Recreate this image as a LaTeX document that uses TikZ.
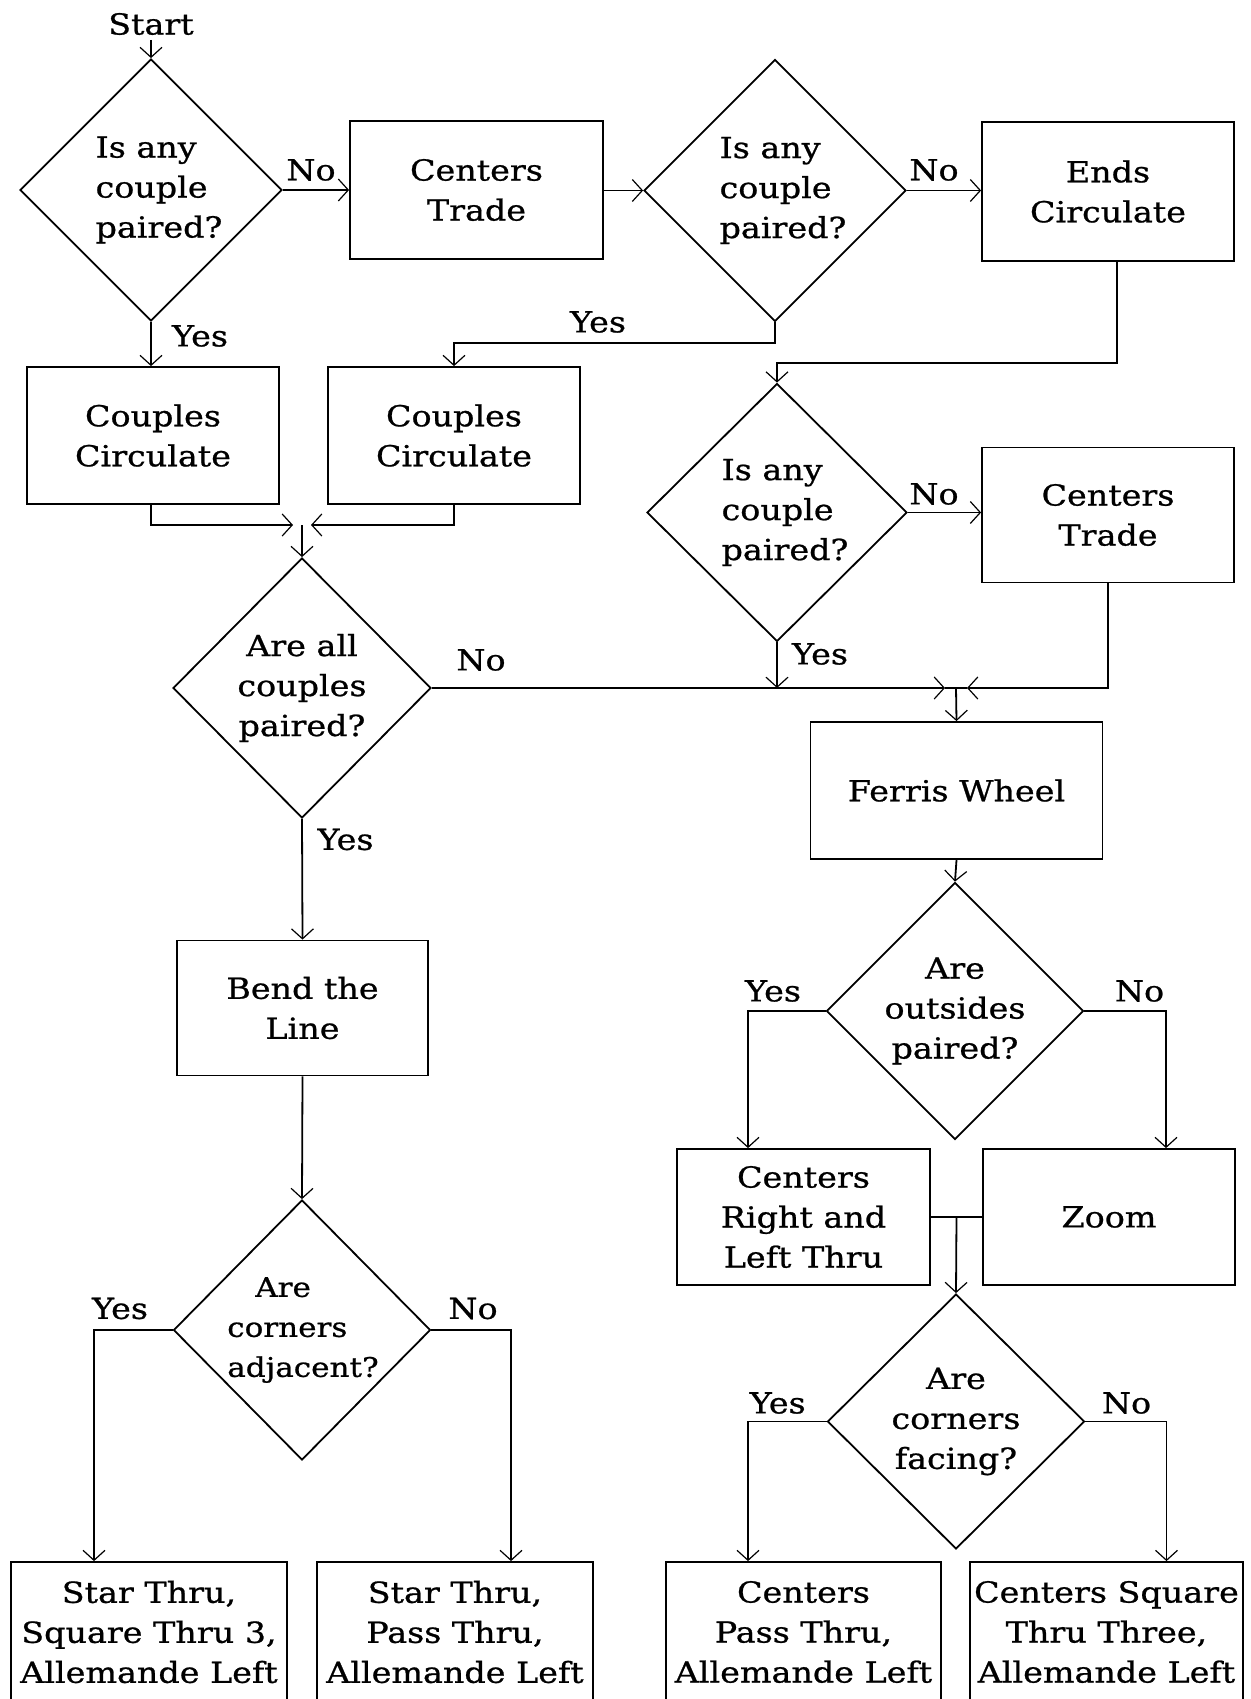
\documentclass[tikz,border=0pt]{standalone}
\usepackage{fontspec}
\setmainfont{DejaVu Serif}[FakeStretch=1.15,FakeBold=0.8]
\usetikzlibrary{shapes.geometric,arrows.meta}
\begin{document}
\begin{tikzpicture}[x=1pt,y=-1pt,line width=1.8pt,
  every node/.style={font=\fontsize{29}{40}\selectfont, align=center, inner sep=0pt},
  box/.style={draw, line width=1.8pt, rectangle},
  dia/.style={draw, line width=1.8pt, diamond, inner sep=-40pt},
  lab/.style={font=\fontsize{29}{40}\selectfont},
  arr/.style={-{Straight Barb[length=10pt,width=22pt,line width=1.2pt]}}]
\useasboundingbox (0,0) rectangle (1250,1699);
\fill[white] (0,0) rectangle (1250,1699);
\clip (0,0) rectangle (1250,1699);
% nodes
\node (start) at (151,24) {Start};
\coordinate (s0) at (151,40);
\node[dia, align=left, minimum width=262pt, minimum height=262pt] (d1) at (151,190) {\hspace*{16pt}Is any\\\hspace*{16pt}couple\\\hspace*{16pt}paired?};
\node[box, minimum width=253pt, minimum height=138pt] (ct1) at (476.5,190) {Centers\\Trade};
\node[dia, align=left, minimum width=262pt, minimum height=262pt] (d2) at (775,190.5) {\hspace*{16pt}Is any\\\hspace*{16pt}couple\\\hspace*{16pt}paired?};
\node[box, minimum width=252pt, minimum height=139pt] (ec) at (1108,191.5) {Ends\\Circulate};
\node[box, minimum width=252pt, minimum height=137pt] (cc1) at (153,435.5) {Couples\\Circulate};
\node[box, minimum width=252pt, minimum height=137pt] (cc2) at (454,435.5) {Couples\\Circulate};
\node[dia, align=left, minimum width=260pt, minimum height=258pt] (d4) at (777,512.5) {\hspace*{16pt}Is any\\\hspace*{16pt}couple\\\hspace*{16pt}paired?};
\node[box, minimum width=252pt, minimum height=135pt] (ct2) at (1108,515) {Centers\\Trade};
\node[dia, minimum width=258pt, minimum height=260pt] (d3) at (302,688) {Are all\\couples\\paired?};
\node[box, minimum width=292pt, minimum height=137pt] (fw) at (956.5,790.5) {Ferris Wheel};
\node[dia, minimum width=257pt, minimum height=257pt] (d5) at (955,1011) {Are\\outsides\\paired?};
\node[box, minimum width=251pt, minimum height=135pt] (bl) at (302.5,1008) {Bend the\\Line};
\node[dia, align=left, font=\fontsize{27}{40}\selectfont, minimum width=257pt, minimum height=260pt] (d7) at (302,1330) {\hspace*{30pt}Are\\\hspace*{2pt}corners\\\hspace*{2pt}adjacent?};
\node[box, minimum width=253pt, minimum height=136pt] (cr) at (803.5,1217) {Centers\\Right and\\Left Thru};
\node[box, minimum width=252pt, minimum height=136pt] (zm) at (1109,1217) {Zoom};
\node[dia, minimum width=257pt, minimum height=255pt] (d6) at (956,1421.5) {Are\\corners\\facing?};
\node[box, minimum width=276pt, minimum height=140pt] (sts) at (149,1632) {Star Thru,\\Square Thru 3,\\Allemande Left};
\node[box, minimum width=276pt, minimum height=140pt] (stp) at (455,1632) {Star Thru,\\Pass Thru,\\Allemande Left};
\node[box, minimum width=275pt, minimum height=140pt] (cpt) at (803.5,1632) {Centers\\Pass Thru,\\Allemande Left};
\node[box, minimum width=273pt, minimum height=140pt] (cst) at (1106.5,1632) {Centers Square\\Thru Three,\\Allemande Left};
% merge points
\coordinate (m1) at (302,525);
\coordinate (m2) at (956,688);
\coordinate (m3) at (956.5,1217);
% labels
\node[lab] (n1) at (311,170) {No};
\node[lab] (y1) at (200,336) {Yes};
\node[lab] (n2) at (934,170) {No};
\node[lab] (y2) at (598,322) {Yes};
\node[lab] (n4) at (934,494) {No};
\node[lab] (y4) at (820,654) {Yes};
\node[lab] (n3) at (481,660) {No};
\node[lab] (y3) at (345.5,839.5) {Yes};
\node[lab] (y5) at (773,991) {Yes};
\node[lab] (n5) at (1139.5,991) {No};
\node[lab] (y6) at (777.7,1403) {Yes};
\node[lab] (n6) at (1126.5,1403) {No};
\node[lab] (y7) at (120,1308.5) {Yes};
\node[lab] (n7) at (473,1308.5) {No};
% connectors
\draw[arr] (s0) -- (d1.north);
\draw[arr] (d1.east) -- (d1.east -| ct1.west);
\draw[arr] (d2.west -| ct1.east) -- (d2.west);
\draw[arr] (d2.east) -- (d2.east -| ec.west);
\draw[arr] (d1.south) -- (d1.south |- cc1.north);
\draw[arr] (d2.south) -- ++(0,20.5) -| (cc2.north);
\draw[arr] ([xshift=9pt]ec.south) -- ++(0,101) -| (d4.north);
\draw[arr] (d4.east) -- (d4.east -| ct2.west);
\draw[arr] (d1.south |- cc1.south) |- ([xshift=-9pt]m1);
\draw[arr] (cc2.south) |- ([xshift=9pt]m1);
\draw[arr] (m1) -- (d3.north);
\draw[arr] (d3.east) -- ([xshift=-11pt]m2);
\draw ([xshift=-11pt]m2) -- ([xshift=11pt]m2);
\draw[arr] (d4.south) -- (d4.south |- m2);
\draw[arr] (ct2.south) |- ([xshift=11pt]m2);
\draw[arr] (m2) -- (fw.north);
\draw[arr] (fw.south) -- (d5.north);
\draw[arr] (d5.west) -| ([xshift=-55.5pt]cr.north);
\draw[arr] (d5.east) -| ([xshift=57pt]zm.north);
\draw (cr.east) -- (zm.west);
\draw[arr] (m3) -- (d6.north);
\draw[arr] (d6.west) -| ([xshift=-55.5pt]cpt.north);
\draw[arr] (d6.east) -| ([xshift=60pt]cst.north);
\draw[arr] (d3.south) -- (bl.north);
\draw[arr] (bl.south) -- (d7.north);
\draw[arr] (d7.west) -| ([xshift=-55pt]sts.north);
\draw[arr] (d7.east) -| ([xshift=56pt]stp.north);
\end{tikzpicture}
\end{document}
